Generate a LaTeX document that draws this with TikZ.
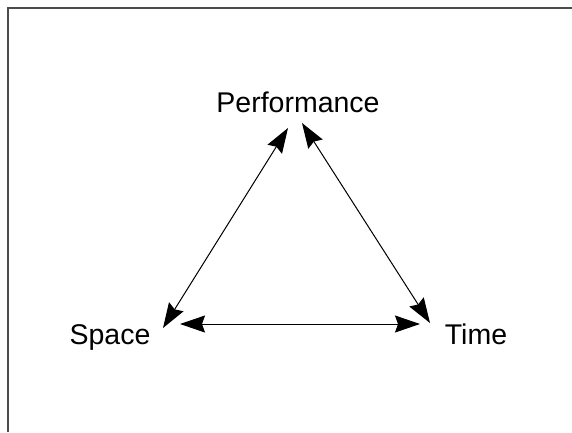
\documentclass[tikz,border=0pt]{standalone}
\usepackage{fontspec}
\setmainfont{Liberation Sans}
\usetikzlibrary{arrows.meta}
\begin{document}
\begin{tikzpicture}[x=1pt,y=-1pt,
  label/.style={inner sep=0pt,font=\fontsize{28.5}{32}\selectfont,anchor=base},
  head/.tip={Stealth[length=25pt,width=17pt,inset=3pt]},
  link/.style={line width=1pt,head-head}]
  \useasboundingbox (0,0) rectangle (572,432);
  % frame
  \draw[line width=1.5pt,black!70] (8,432) -- (8,8) -- (572,8);
  % labels
  \node[label] (perf)  at (298,112) {Performance};
  \node[label] (space) at (110,344) {Space};
  \node[label] (time)  at (476,344) {Time};
  % arrow ends
  \coordinate (pL) at ([shift={(-10,16)}]perf.base);
  \coordinate (pR) at ([shift={(4,11)}]perf.base);
  \coordinate (sP) at ([shift={(53,-16)}]space.base);
  \coordinate (sT) at ([shift={(70,-20)}]space.base);
  \coordinate (tS) at ([shift={(-56,-20)}]time.base);
  \coordinate (tP) at ([shift={(-46,-21)}]time.base);
  % connectors
  \draw[link] (pL) -- (sP);
  \draw[link] (pR) -- (tP);
  \draw[link] (sT) -- (tS);
\end{tikzpicture}
\end{document}
